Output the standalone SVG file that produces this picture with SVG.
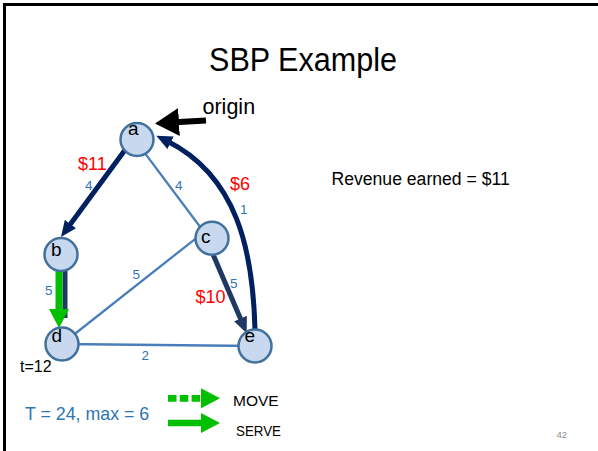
<svg xmlns="http://www.w3.org/2000/svg" width="598" height="451" viewBox="0 0 598 451">
<style>
text{font-family:"Liberation Sans","Open Sans",Arial,sans-serif}
.node circle{fill:#c7d8ef;stroke:#41719c;stroke-width:2.5}
.node text{font-size:19px;fill:#000}
.thin{stroke:#4a7ebb;stroke-width:2.3;fill:none}
.navy{stroke:#002060;stroke-width:5;fill:none}
.slate{stroke:#203864;stroke-width:5;fill:none}
.green{stroke:#00c000;stroke-width:7;fill:none}
.num{font-size:13.5px;fill:#2e75b6}
.rev{font-size:18px;fill:#ff0000}
</style>
<defs>
<marker id="mNavy" markerUnits="userSpaceOnUse" viewBox="0 0 16 14" refX="4" refY="7" markerWidth="16" markerHeight="14" orient="auto"><path d="M0,0 L16,7 L0,14 z" fill="#002060"/></marker>
<marker id="mSlate" markerUnits="userSpaceOnUse" viewBox="0 0 16 14" refX="4" refY="7" markerWidth="16" markerHeight="14" orient="auto"><path d="M0,0 L16,7 L0,14 z" fill="#203864"/></marker>
<marker id="mBlack" markerUnits="userSpaceOnUse" viewBox="0 0 24 28" refX="4" refY="14" markerWidth="24" markerHeight="28" orient="auto"><path d="M0,0 L24,14 L0,28 z" fill="#000"/></marker>
<marker id="mGreen" markerUnits="userSpaceOnUse" viewBox="0 0 19 20" refX="2" refY="10" markerWidth="19" markerHeight="20" orient="auto"><path d="M0,0 L19,10 L0,20 z" fill="#00c000"/></marker>
</defs>
<rect width="598" height="451" fill="#fff"/>
<path d="M4.5,451 L4.5,4.5 L598,4.5" fill="none" stroke="#000" stroke-width="3"/>
<text x="303" y="71" font-size="33" text-anchor="middle" textLength="188" lengthAdjust="spacingAndGlyphs">SBP Example</text>
<g id="connectors">
<line class="thin" x1="140" y1="146.6" x2="203" y2="230.7"/>
<line class="thin" x1="62" y1="344" x2="196" y2="238.3"/>
<line class="thin" x1="62" y1="344" x2="255" y2="346"/>
<path class="navy" d="M125,150 L68.1,227.3" marker-end="url(#mNavy)"/>
<path class="slate" d="M213.3,255 L242,322.3" marker-end="url(#mSlate)"/>
<path class="navy" d="M255,330 C253,250 237,176 167,141" marker-end="url(#mNavy)"/>
<path d="M206,120.5 L175,122.3" stroke="#000" stroke-width="6" fill="none" marker-end="url(#mBlack)"/>
<line x1="65" y1="271" x2="65" y2="318" stroke="#203864" stroke-width="5"/>
<path class="green" d="M59,271 L59,311" marker-end="url(#mGreen)"/>
</g>
<g id="node-a" class="node"><circle cx="137" cy="139.5" r="16.5"/><text x="128" y="135">a</text></g>
<g id="node-b" class="node"><circle cx="61" cy="254.5" r="16.5"/><text x="51" y="256">b</text></g>
<g id="node-c" class="node"><circle cx="212" cy="238.3" r="16.5"/><text x="201" y="242.5">c</text></g>
<g id="node-d" class="node"><circle cx="62" cy="344" r="16.5"/><text x="51.5" y="341.7">d</text></g>
<g id="node-e" class="node"><circle cx="255" cy="346" r="16.5"/><text x="244.5" y="341.7">e</text></g>
<text x="202.5" y="113.5" font-size="21.5">origin</text>
<text class="rev" x="78" y="170">$11</text>
<text class="num" x="85" y="190">4</text>
<text class="num" x="175" y="190">4</text>
<text class="rev" x="230" y="190">$6</text>
<text class="num" x="240" y="214">1</text>
<text class="num" x="132.5" y="279">5</text>
<text class="num" x="45" y="295">5</text>
<text class="rev" x="195.5" y="303">$10</text>
<text class="num" x="230" y="288">5</text>
<text class="num" x="141.5" y="360">2</text>
<text x="20" y="372" font-size="16">t=12</text>
<text x="331.5" y="185" font-size="17.6">Revenue earned = $11</text>
<g id="legend">
<text x="25" y="420" font-size="17.8" fill="#2e75b6">T = 24, max = 6</text>
<path d="M168,398.3 L203,398.3" stroke="#00c000" stroke-width="6.7" stroke-dasharray="8.5 3.3" fill="none" marker-end="url(#mGreen)"/>
<path d="M168,423 L203,423" stroke="#00c000" stroke-width="6.7" fill="none" marker-end="url(#mGreen)"/>
<text x="233" y="406" font-size="15.5">MOVE</text>
<text x="236" y="435.5" font-size="15" textLength="45" lengthAdjust="spacingAndGlyphs">SERVE</text>
</g>
<text x="556.5" y="437.5" font-size="9.5" fill="#8c8c8c">42</text>
</svg>
